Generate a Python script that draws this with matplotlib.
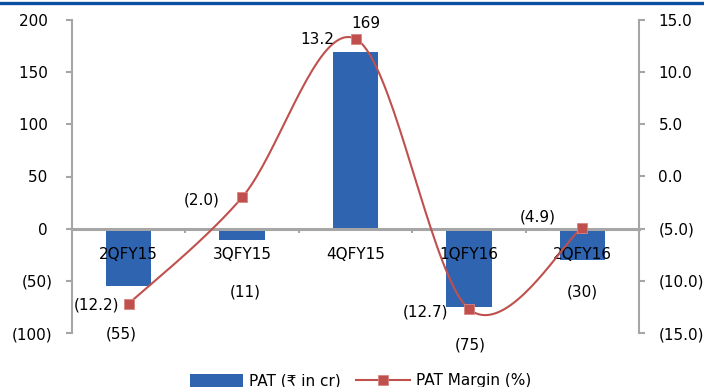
import numpy as np
import matplotlib
matplotlib.use("Agg")
import matplotlib.pyplot as plt
from matplotlib.lines import Line2D
from matplotlib.patches import Patch

plt.rcParams["font.family"] = ["DejaVu Sans", "Noto Sans"]

# Quarterly profit after tax and margin
quarters = ["2QFY15", "3QFY15", "4QFY15", "1QFY16", "2QFY16"]
pat = [-55, -11, 169, -75, -30]
pat_margin = [-12.2, -2.0, 13.2, -12.7, -4.9]
pat_ticks = [-100, -50, 0, 50, 100, 150, 200]
margin_ticks = [-15, -10, -5, 0, 5, 10, 15]

# label placement (pixel offsets from the bar end / marker)
pat_label_offsets = [(-7, -48), (3, -52), (10, 29), (1, -38), (0, -32)]
margin_label_offsets = [(-32, -1), (-40, -3), (-38, -1), (-43, -3), (-45, 11)]

BAR = "#2F64B0"
LINE = "#C0504D"
GRID = "#A6A6A6"


def paren(v, decimals=0, pad=False):
    s = f"{abs(v):.{decimals}f}"
    if v < 0:
        return f"({s})"
    return s + " " if pad else s


W, H = 704, 387
fig = plt.figure(figsize=(W / 100, H / 100), dpi=100)
ax = fig.add_axes([72 / W, 1 - 333 / H, (639 - 72) / W, (333 - 20) / H])
ax2 = ax.twinx()

x = np.arange(len(quarters))
ax.bar(x, pat, width=0.40, color=BAR, zorder=1)
ax.set_xlim(-0.5, len(quarters) - 0.5)
ax.set_ylim(min(pat_ticks), max(pat_ticks))
ax.set_yticks(pat_ticks)
ax.set_yticklabels([paren(t, pad=True) for t in pat_ticks])

# category axis crossing at zero
ax.spines["bottom"].set_position(("data", 0))
ax.spines["bottom"].set_color(GRID)
ax.spines["bottom"].set_linewidth(2.2)
ax.spines["left"].set_color(GRID)
ax.spines["left"].set_linewidth(1.5)
ax.spines["top"].set_visible(False)
ax.spines["right"].set_visible(False)
ax.set_xticks(x)
ax.set_xticklabels(quarters)
ax.set_xticks(np.arange(len(quarters) - 1) + 0.5, minor=True)
ax.tick_params(axis="x", which="major", length=0, pad=13, labelsize=11)
ax.tick_params(axis="x", which="minor", length=3, width=1.5, color=GRID, direction="out")
ax.tick_params(axis="y", length=4, width=1.5, color=GRID, labelsize=11, pad=10)

# secondary axis for the margin
ax2.set_ylim(min(margin_ticks), max(margin_ticks))
ax2.set_yticks(margin_ticks)
ax2.set_yticklabels([paren(t, 1) for t in margin_ticks])
for s in ["top", "left", "bottom"]:
    ax2.spines[s].set_visible(False)
ax2.spines["right"].set_color(GRID)
ax2.spines["right"].set_linewidth(1.5)
ax2.tick_params(axis="y", length=4, width=1.5, color=GRID, labelsize=11, pad=10)

# smoothed margin line (Catmull-Rom in display space)
pts = ax2.transData.transform(np.column_stack([x, pat_margin]))
ext = np.vstack([pts[0], pts, pts[-1]])
curve = []
t = np.linspace(0, 1, 40)[:, None]
for i in range(len(pts) - 1):
    p0, p1, p2, p3 = ext[i], ext[i + 1], ext[i + 2], ext[i + 3]
    c1 = p1 + (p2 - p0) / 6
    c2 = p2 - (p3 - p1) / 6
    seg = ((1 - t) ** 3) * p1 + 3 * ((1 - t) ** 2) * t * c1 + 3 * (1 - t) * t ** 2 * c2 + t ** 3 * p2
    curve.append(seg)
curve = ax2.transData.inverted().transform(np.vstack(curve))
ax2.plot(curve[:, 0], curve[:, 1], color=LINE, lw=1.5, zorder=3)
ax2.plot(x, pat_margin, ls="none", marker="s", ms=7, color=LINE,
         markeredgecolor="#D9857F", markeredgewidth=0.6, zorder=4)

# value labels
for xi, v, (dx, dy) in zip(x, pat, pat_label_offsets):
    ax.annotate(paren(v), (xi, v), xytext=(dx, dy), textcoords="offset pixels",
                ha="center", va="center", fontsize=11, color="black")
for xi, v, (dx, dy) in zip(x, pat_margin, margin_label_offsets):
    ax2.annotate(paren(v, 1), (xi, v), xytext=(dx, dy), textcoords="offset pixels",
                 ha="center", va="center", fontsize=11, color="black", zorder=5)

# legend
handles = [
    Patch(facecolor=BAR, edgecolor="none"),
    Line2D([0], [0], color=LINE, lw=1.5, marker="s", ms=7,
           markeredgecolor="#D9857F", markeredgewidth=0.6),
]
fig.legend(handles, ["PAT (\u20b9 in cr)", "PAT Margin (%)"], loc="center",
           bbox_to_anchor=(0.512, 1 - 381 / H), ncol=2, frameon=False, fontsize=11,
           handlelength=3.5, handleheight=0.9, columnspacing=1.0, handletextpad=0.4)

# header rule
fig.add_artist(Line2D([0, 1], [1 - 2.5 / H, 1 - 2.5 / H], transform=fig.transFigure,
                      color="#0B4EA2", lw=2.4))

fig.savefig("out.png", dpi=100)
